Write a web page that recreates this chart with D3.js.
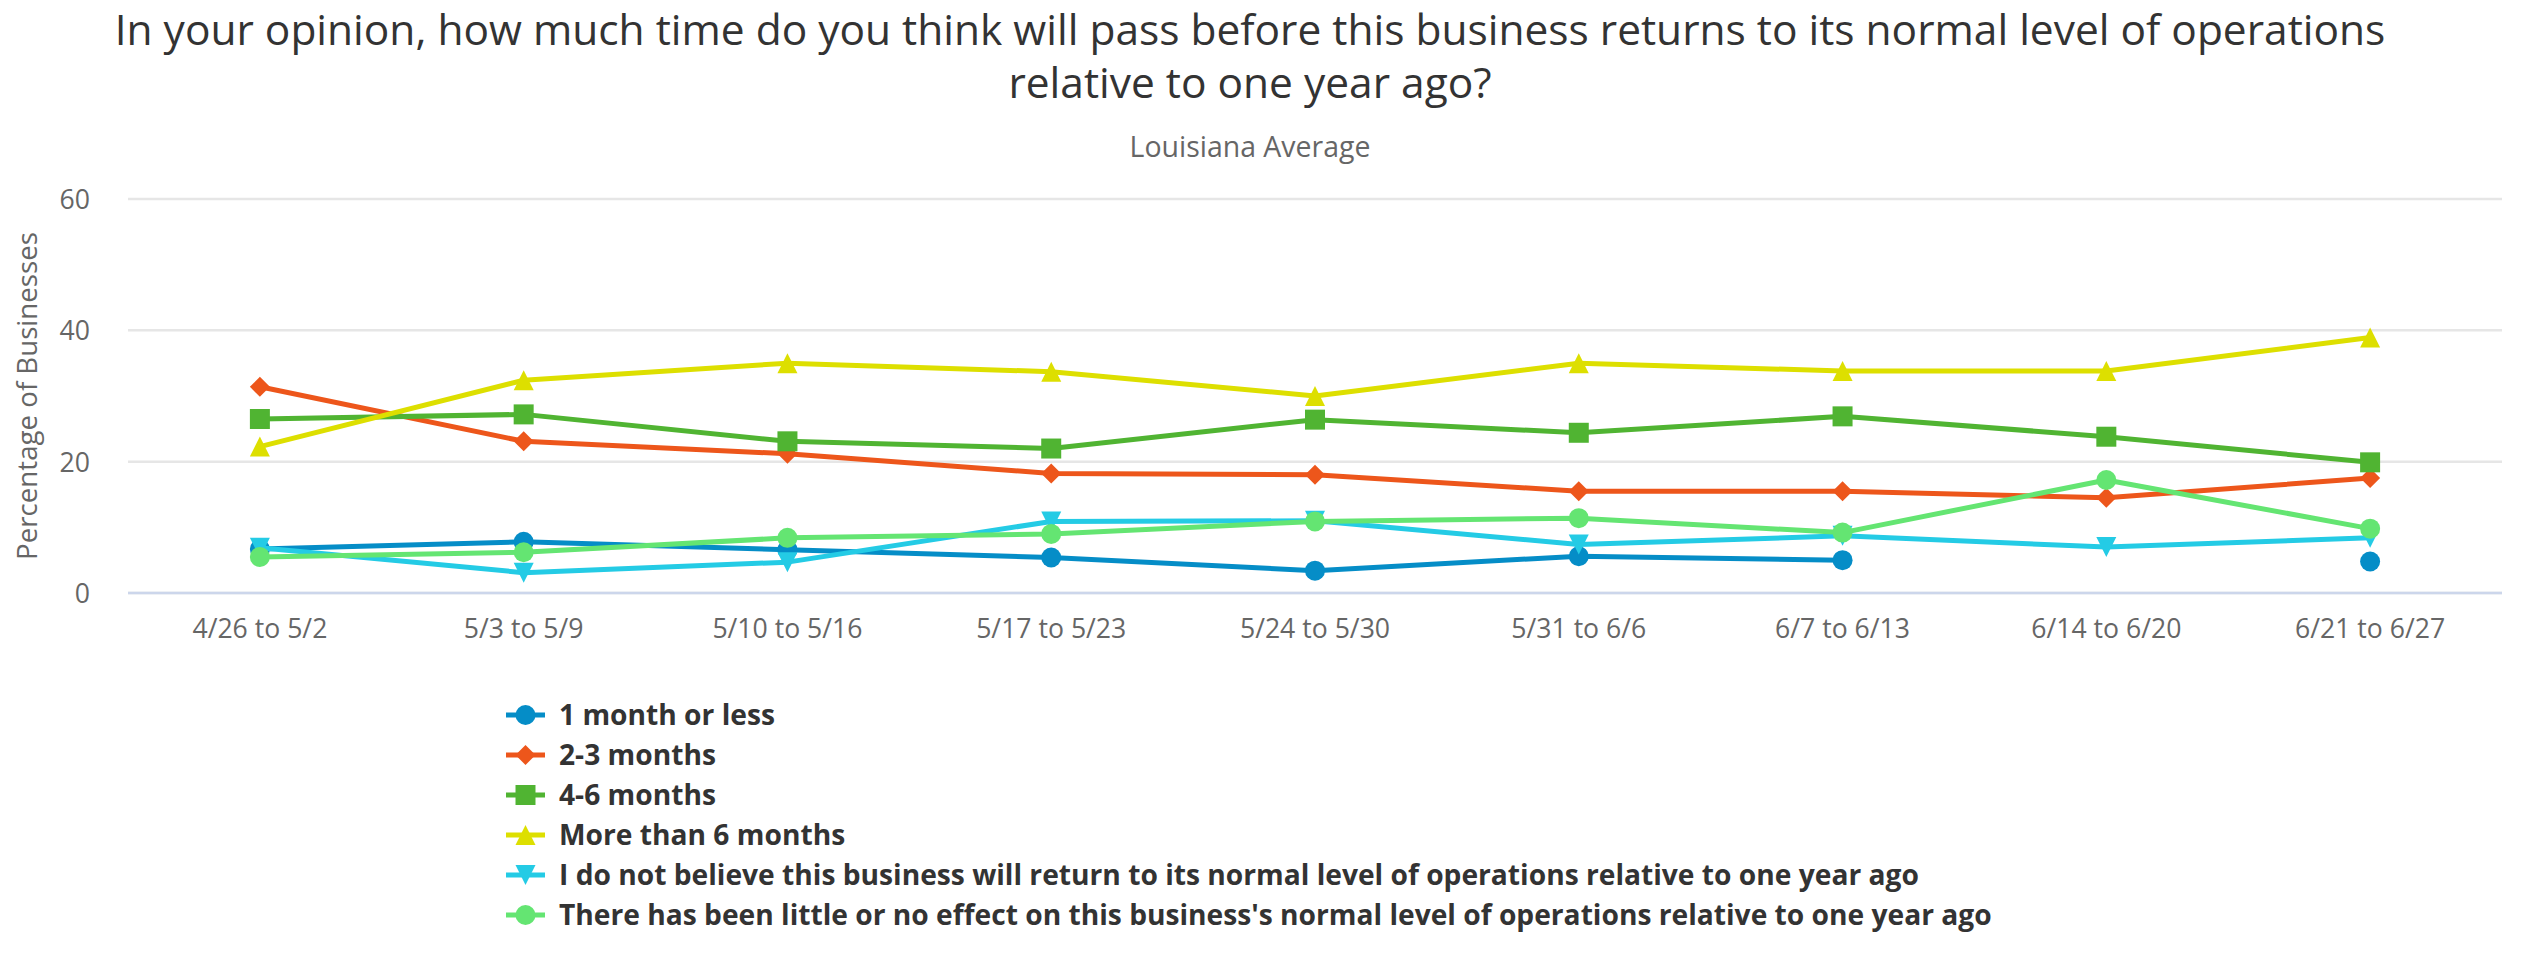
<!DOCTYPE html>
<html>
<head>
<meta charset="utf-8">
<script src="https://cdn.jsdelivr.net/npm/d3@7"></script>
<style>
  body { margin: 0; background: #fff; }
  text { font-family: "Open Sans", "Noto Sans", sans-serif; }
</style>
</head>
<body>
<div id="chart_div"></div>
<script>
// chart data
var categories = ["4/26 to 5/2", "5/3 to 5/9", "5/10 to 5/16", "5/17 to 5/23", "5/24 to 5/30",
  "5/31 to 6/6", "6/7 to 6/13", "6/14 to 6/20", "6/21 to 6/27"];
var seriesNames = [
  "1 month or less",
  "2-3 months",
  "4-6 months",
  "More than 6 months",
  "I do not believe this business will return to its normal level of operations relative to one year ago",
  "There has been little or no effect on this business's normal level of operations relative to one year ago"
];
var oneMonthOrLess = [6.7, 7.8, 6.6, 5.4, 3.4, 5.6, 5.0, null, 4.8];
var twoToThreeMonths = [31.4, 23.1, 21.2, 18.2, 18.0, 15.5, 15.5, 14.5, 17.5];
var fourToSixMonths = [26.5, 27.2, 23.1, 22.0, 26.4, 24.4, 26.9, 23.8, 19.9];
var moreThanSixMonths = [22.3, 32.4, 35.0, 33.7, 30.0, 35.0, 33.8, 33.8, 38.9];
var willNotReturn = [6.9, 3.1, 4.7, 10.9, 11.0, 7.4, 8.7, 7.0, 8.4];
var littleOrNoEffect = [5.5, 6.2, 8.4, 9.0, 10.9, 11.4, 9.2, 17.2, 9.8];
var yTicks = [0, 20, 40, 60];

var seriesValues = [oneMonthOrLess, twoToThreeMonths, fourToSixMonths, moreThanSixMonths, willNotReturn, littleOrNoEffect];
var colors = ["#058DC7", "#ED561B", "#50B432", "#DDDF00", "#24CBE5", "#64E572"];
var symbols = ["circle", "diamond", "square", "triangle", "triangle-down", "circle"];

var W = 2530, H = 954;
var margin = { top: 199, right: 28, bottom: 361, left: 128 };
var centerX = 1250;

var svg = d3.select("#chart_div").append("svg")
  .attr("width", W).attr("height", H);
svg.append("rect").attr("width", W).attr("height", H).attr("fill", "#fff");

// shrink/grow font so a text fits the width
function fitWidth(sel, target) {
  var size = parseFloat(sel.attr("font-size"));
  var len = sel.node().getComputedTextLength();
  var s = size * target / len;
  sel.attr("font-size", s);
  return s;
}

// title + subtitle
var t1 = svg.append("text").attr("x", centerX).attr("y", 45).attr("text-anchor", "middle")
  .attr("font-size", 44).attr("fill", "#333333")
  .text("In your opinion, how much time do you think will pass before this business returns to its normal level of operations");
var titleSize = fitWidth(t1, 2271);
svg.append("text").attr("x", centerX).attr("y", 98).attr("text-anchor", "middle")
  .attr("font-size", titleSize).attr("fill", "#333333")
  .text("relative to one year ago?");
var sub = svg.append("text").attr("x", centerX).attr("y", 157).attr("text-anchor", "middle")
  .attr("font-size", 26).attr("fill", "#666666")
  .text("Louisiana Average");
fitWidth(sub, 241);

var x = d3.scaleBand().domain(categories).range([margin.left, W - margin.right]);
var y = d3.scaleLinear().domain([0, 60]).range([H - margin.bottom, margin.top]);
function cx(i) { return x(categories[i]) + x.bandwidth() / 2; }

// grid lines
svg.append("g").selectAll("line").data(yTicks).enter().append("line")
  .attr("x1", margin.left).attr("x2", W - margin.right)
  .attr("y1", function(d) { return y(d); }).attr("y2", function(d) { return y(d); })
  .attr("stroke", "#e6e6e6").attr("stroke-width", 2.5);

// x axis line
svg.append("line")
  .attr("x1", margin.left).attr("x2", W - margin.right)
  .attr("y1", y(0)).attr("y2", y(0))
  .attr("stroke", "#ccd6eb").attr("stroke-width", 2.5);

// y tick labels
var yAxis = d3.axisLeft(y).tickValues(yTicks).tickSize(0).tickPadding(0);
var yg = svg.append("g").attr("transform", "translate(90,0)").call(yAxis);
yg.select(".domain").remove();
yg.selectAll("text").attr("font-size", 28).attr("fill", "#666666")
  .attr("font-family", "Open Sans, Noto Sans, sans-serif").attr("dy", "0.36em");

// x tick labels
var xAxis = d3.axisBottom(x).tickSize(0).tickPadding(0);
var xg = svg.append("g").attr("transform", "translate(0," + (y(0) + 26) + ")").call(xAxis);
xg.select(".domain").remove();
xg.selectAll("text").attr("font-size", 28).attr("fill", "#666666")
  .attr("font-family", "Open Sans, Noto Sans, sans-serif").attr("dy", "0.71em");
var xSize = fitWidth(xg.select("text"), 135);
xg.selectAll("text").attr("font-size", xSize);
yg.selectAll("text").attr("font-size", xSize);

// y axis title
var yt = svg.append("text").attr("transform", "translate(37,396) rotate(-90)")
  .attr("text-anchor", "middle").attr("font-size", 28).attr("fill", "#666666")
  .text("Percentage of Businesses");
fitWidth(yt, 328);

// highcharts-like marker paths
function markerPath(sym, px, py, r) {
  if (sym === "circle") {
    return "M" + (px - r) + "," + py + "a" + r + "," + r + " 0 1,0 " + (2 * r) + ",0a" + r + "," + r + " 0 1,0 " + (-2 * r) + ",0Z";
  }
  if (sym === "diamond") {
    return "M" + px + "," + (py - r) + "L" + (px + r) + "," + py + "L" + px + "," + (py + r) + "L" + (px - r) + "," + py + "Z";
  }
  if (sym === "square") {
    return "M" + (px - r) + "," + (py - r) + "h" + (2 * r) + "v" + (2 * r) + "h" + (-2 * r) + "Z";
  }
  if (sym === "triangle") {
    return "M" + px + "," + (py - r) + "L" + (px + r) + "," + (py + r) + "L" + (px - r) + "," + (py + r) + "Z";
  }
  // triangle-down
  return "M" + (px - r) + "," + (py - r) + "L" + (px + r) + "," + (py - r) + "L" + px + "," + (py + r) + "Z";
}

var line = d3.line()
  .defined(function(d) { return d != null; })
  .x(function(d, i) { return cx(i); })
  .y(function(d) { return y(d); });

seriesValues.forEach(function(vals, s) {
  var g = svg.append("g");
  g.append("path").datum(vals)
    .attr("d", line)
    .attr("fill", "none")
    .attr("stroke", colors[s])
    .attr("stroke-width", 5)
    .attr("stroke-linejoin", "round")
    .attr("stroke-linecap", "round");
  g.selectAll("path.marker")
    .data(vals.map(function(v, i) { return { v: v, i: i }; }).filter(function(d) { return d.v != null; }))
    .enter().append("path")
    .attr("class", "marker")
    .attr("d", function(d) { return markerPath(symbols[s], cx(d.i), y(d.v), 10); })
    .attr("fill", colors[s]);
});

// legend
var legend = svg.append("g");
var legendSize = 28;
seriesNames.forEach(function(name, s) {
  var ly = 715 + s * 40;
  legend.append("line").attr("x1", 506).attr("x2", 545).attr("y1", ly).attr("y2", ly)
    .attr("stroke", colors[s]).attr("stroke-width", 5);
  legend.append("path").attr("d", markerPath(symbols[s], 525.5, ly, 10)).attr("fill", colors[s]);
  var lt = legend.append("text").attr("x", 559).attr("y", ly).attr("dy", "0.35em")
    .attr("font-size", legendSize).attr("font-weight", "bold").attr("fill", "#333333")
    .text(name);
  if (s === 0) legendSize = fitWidth(lt, 216);
});
</script>
</body>
</html>
